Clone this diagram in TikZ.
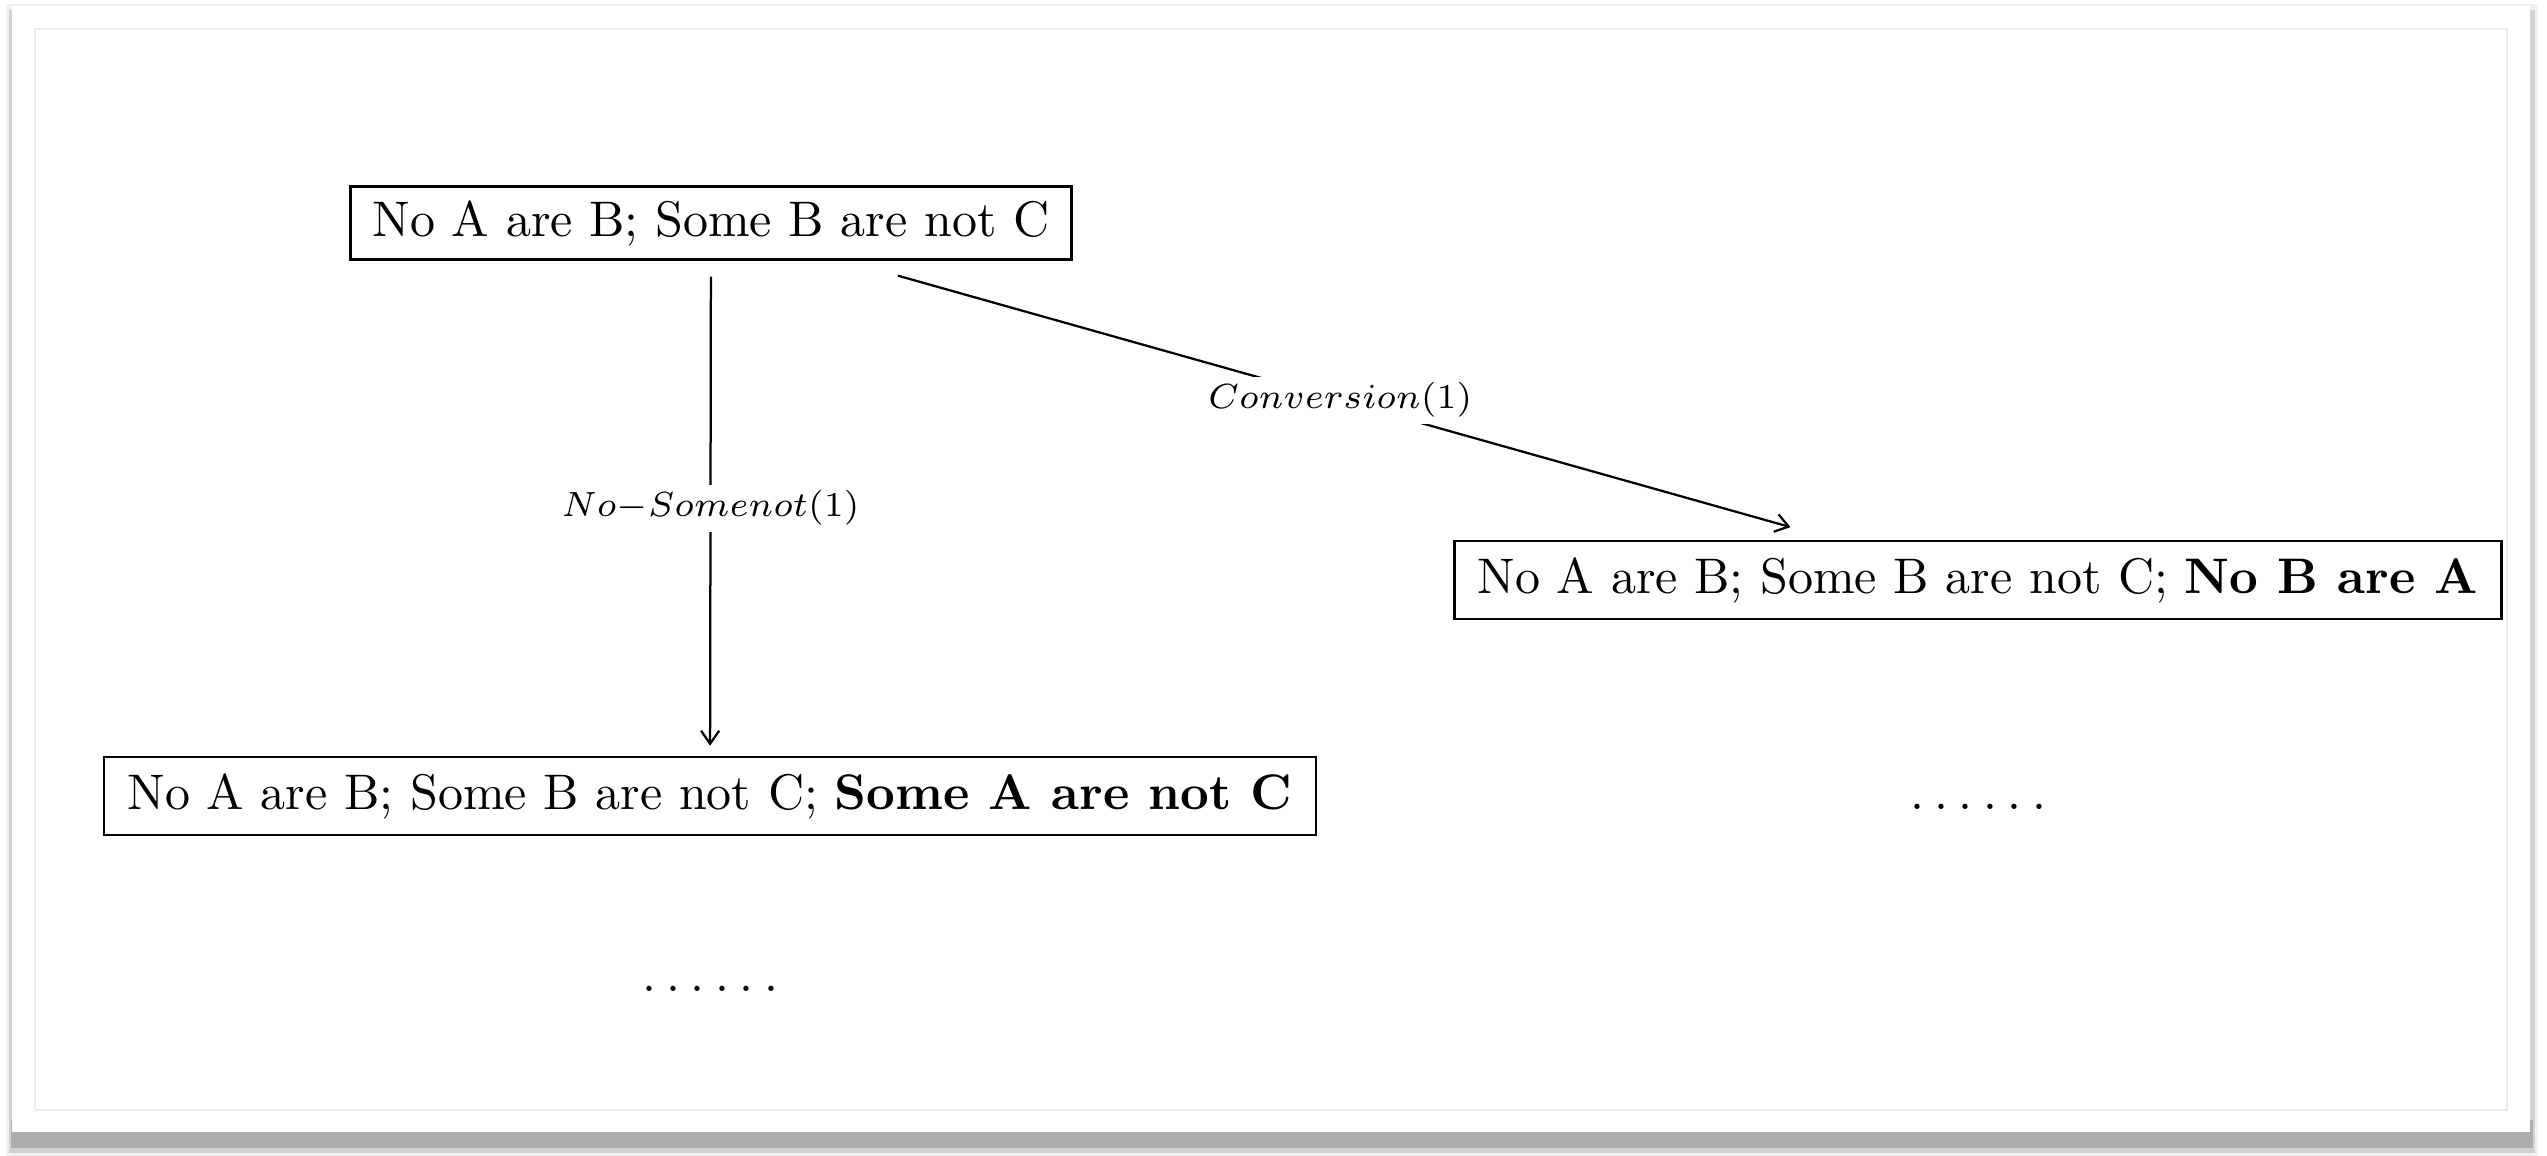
\documentclass[tikz,border=0pt]{standalone}
\usetikzlibrary{arrows.meta}
\newcommand{\sixdots}{.\kern2.1pt.\kern2.1pt.\kern2.1pt.\kern2.1pt.\kern2.1pt.}
\begin{document}
\begin{tikzpicture}[x=0.2pt,y=-0.2pt,
  box/.style={draw, line width=0.5pt, inner sep=0pt, font=\fontsize{10}{12}\selectfont},
  dotsnode/.style={inner sep=0pt, anchor=base, font=\fontsize{10}{12}\selectfont},
  lbl/.style={fill=white, inner sep=1.2pt, font=\fontsize{7.5}{9}\selectfont},
  arr/.style={-{Straight Barb[length=2.6pt,width=3.6pt]}, line width=0.45pt}]
\useasboundingbox (0,0) rectangle (2547,1156);
% frame with drop shadow
\fill[black!6] (6,4) rectangle (2538,1156);
\fill[black!18] (9,10) rectangle (2535,1153);
\fill[black!32] (11,1120) rectangle (2533,1148);
\fill[white] (12,6) rectangle (2530,1132);
\draw[black!7, line width=0.4pt] (35,29) rectangle (2507,1110);
% nodes
\node[box, minimum width=144.2pt, minimum height=14.6pt] (top) at (711,223) {No A are B; Some B are not C};
\node[box, minimum width=209.4pt, minimum height=15.6pt] (right) at (1978,580) {No A are B; Some B are not C; \textbf{No B are A}};
\node[box, minimum width=242.4pt, minimum height=15.6pt] (bl) at (710,796) {No A are B; Some B are not C; \textbf{Some A are not C}};
\node[dotsnode] (d1) at (710,992) {\sixdots};
\node[dotsnode] (d2) at (1978,810) {\sixdots};
% connectors
\draw[arr, shorten <=3.2pt, shorten >=2pt] (top) -- node[lbl] {$No{-}Somenot(1)$} (bl);
\draw[arr, shorten <=11pt, shorten >=9.3pt] (top) -- node[lbl] {$Conversion(1)$} (right);
\end{tikzpicture}
\end{document}
